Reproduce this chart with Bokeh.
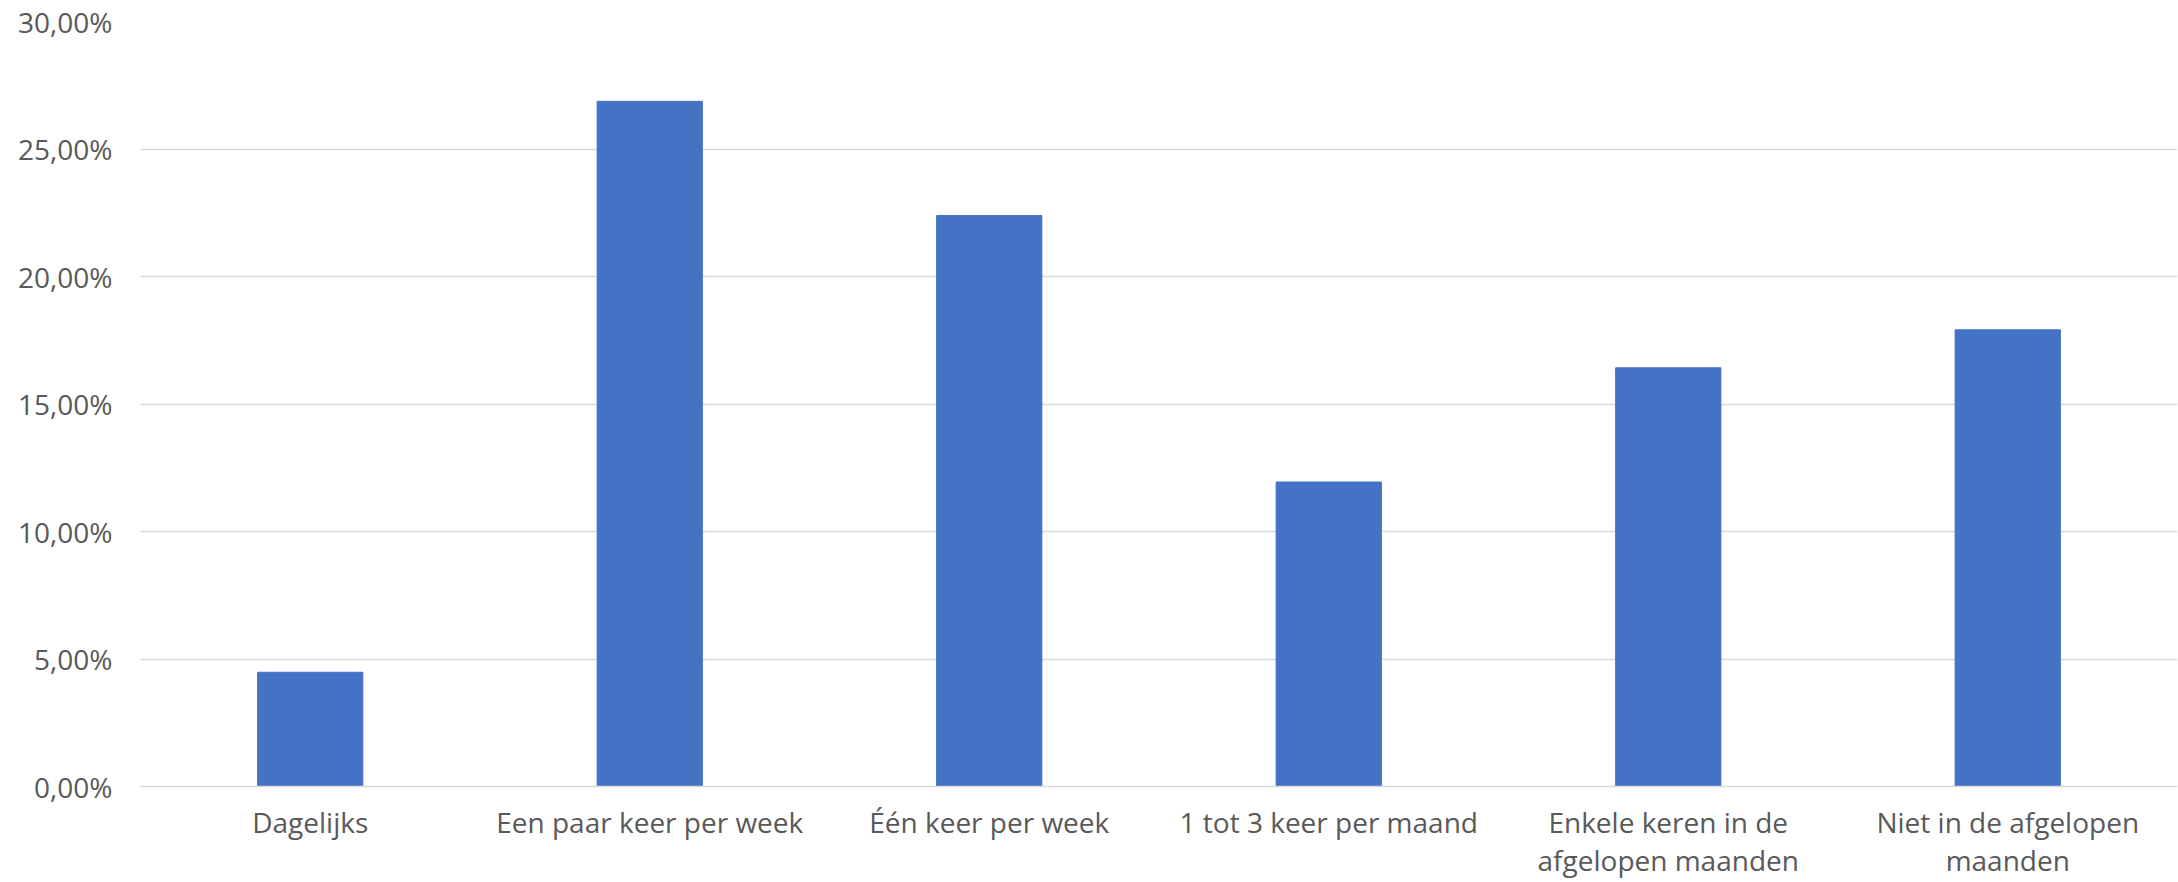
from bokeh.plotting import figure
from bokeh.models import FixedTicker, Range1d
from bokeh.embed import file_html
from bokeh.resources import INLINE

# Frequency categories and share of respondents (%)
categories = [
    "Dagelijks",
    "Een paar keer per week",
    "Één keer per week",
    "1 tot 3 keer per maand",
    "Enkele keren in de afgelopen maanden",
    "Niet in de afgelopen maanden",
]
shares = [4.48, 26.87, 22.39, 11.94, 16.42, 17.91]

# Wrapped versions of the longer category labels
wrapped_labels = {
    "Enkele keren in de afgelopen maanden": "Enkele keren in de\nafgelopen maanden",
    "Niet in de afgelopen maanden": "Niet in de afgelopen\nmaanden",
}
factors = [wrapped_labels.get(c, c) for c in categories]

y_ticks = [0, 5, 10, 15, 20, 25, 30]
y_tick_labels = ["0,00%", "5,00%", "10,00%", "15,00%", "20,00%", "25,00%", "30,00%"]

FONT = "Open Sans"
TEXT_COLOR = "#595959"
GRID_COLOR = "#d9d9d9"
BAR_COLOR = "#4472C4"

p = figure(
    x_range=factors,
    y_range=Range1d(0, 30),
    frame_width=2037,
    frame_height=765,
    output_backend="svg",
    toolbar_location=None,
    min_border_left=140,
    min_border_right=1,
    min_border_top=21,
    min_border_bottom=4,
)
p.outline_line_color = None
p.background_fill_color = "white"
p.border_fill_color = "white"

p.vbar(x=factors, top=shares, width=0.31, color=BAR_COLOR, line_color=BAR_COLOR)

# Y axis: percentage labels, no line or ticks
p.yaxis.ticker = FixedTicker(ticks=y_ticks)
p.yaxis.major_label_overrides = {t: lab for t, lab in zip(y_ticks, y_tick_labels)}
p.yaxis.axis_line_color = None
p.yaxis.major_tick_line_color = None
p.yaxis.minor_tick_line_color = None
p.yaxis.major_tick_out = 0
p.yaxis.major_label_standoff = 28
p.yaxis.major_label_text_font = FONT
p.yaxis.major_label_text_font_size = "28px"
p.yaxis.major_label_text_color = TEXT_COLOR

# X axis: category labels below a light baseline
p.xaxis.axis_line_color = GRID_COLOR
p.xaxis.axis_line_width = 1.5
p.xaxis.major_tick_line_color = None
p.xaxis.minor_tick_line_color = None
p.xaxis.major_tick_out = 0
p.xaxis.major_label_standoff = 16
p.xaxis.major_label_text_font = FONT
p.xaxis.major_label_text_font_size = "28px"
p.xaxis.major_label_text_color = TEXT_COLOR
p.xaxis.major_label_text_line_height = 1.0

p.xgrid.grid_line_color = None
p.ygrid.grid_line_color = GRID_COLOR
p.ygrid.grid_line_width = 1.5

open("out.html", "w").write(file_html(p, INLINE))
